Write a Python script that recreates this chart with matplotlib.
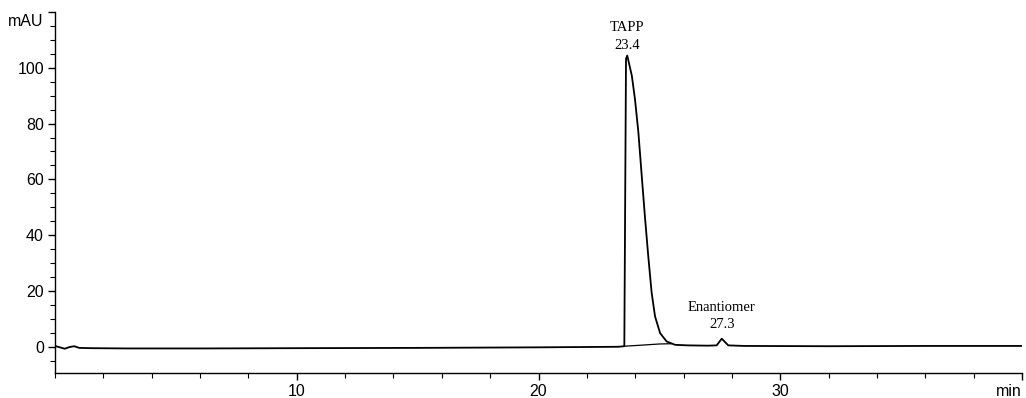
import matplotlib
matplotlib.use("Agg")
import matplotlib.pyplot as plt
from matplotlib.ticker import MultipleLocator
from matplotlib.transforms import blended_transform_factory

# Chromatogram trace (time in min, signal in mAU)
time_min = [0.0, 0.2, 0.4, 0.6, 0.8, 1.0, 1.5, 3.0, 6.0, 10.0, 15.0, 20.0, 23.3, 23.55,
            23.62, 23.67, 23.86, 23.99, 24.13, 24.27, 24.40, 24.54, 24.68, 24.82, 25.03,
            25.30, 25.65, 26.19, 27.0, 27.37, 27.58, 27.85, 28.5, 32.0, 36.0, 40.0]
signal_mau = [0.3, -0.2, -0.7, -0.1, 0.2, -0.4, -0.5, -0.6, -0.6, -0.5, -0.4, -0.2, 0.0, 0.2,
              103.2, 104.4, 97.2, 88.8, 77.0, 61.3, 46.9, 32.5, 19.4, 10.9, 4.9,
              1.9, 0.7, 0.5, 0.4, 0.5, 2.9, 0.5, 0.3, 0.2, 0.3, 0.3]

# Integration baseline under the main peak
base_time = [23.55, 24.3, 25.0, 25.5]
base_mau = [0.2, 0.6, 1.0, 1.1]

# Peak annotations
peak_names = ["TAPP", "Enantiomer"]
peak_times = ["23.4", "27.3"]
label_x = [23.68, 27.58]
name_y = [114.3, 14.0]
time_y = [107.9, 7.9]

x_ticks = [10, 20, 30, 40]
x_tick_labels = ["10", "20", "30", "min"]
y_ticks = [0, 20, 40, 60, 80, 100]

fig = plt.figure(figsize=(10.26, 3.98), dpi=100)
ax = fig.add_axes([55 / 1026, 1 - 373 / 398, 967 / 1026, 361 / 398])

ax.plot(time_min, signal_mau, color="black", lw=1.3)
ax.plot(base_time, base_mau, color="black", lw=0.9)

ax.set_xlim(0, 40)
ax.set_ylim(-9.4, 120)

for s in ["top", "right"]:
    ax.spines[s].set_visible(False)
ax.spines["left"].set_linewidth(1.0)
ax.spines["bottom"].set_linewidth(1.0)

ax.set_xticks(x_ticks)
ax.set_xticklabels(x_tick_labels, family="Liberation Sans", fontsize=11.5)
ax.get_xticklabels()[-1].set_horizontalalignment("right")
ax.xaxis.set_minor_locator(MultipleLocator(2))
ax.set_yticks(y_ticks + [120])
ax.set_yticklabels([str(v) for v in y_ticks] + [""], family="Liberation Sans", fontsize=11.5)
ax.yaxis.set_minor_locator(MultipleLocator(5))
ax.tick_params(axis="both", which="major", length=5, width=1.0, direction="out", pad=3)
ax.tick_params(axis="both", which="minor", length=3.5, width=0.8, direction="out")

tr = blended_transform_factory(ax.transAxes, ax.transData)
ax.text(-0.012, 116.5, "mAU", transform=tr, ha="right", va="center",
        family="Liberation Sans", fontsize=11.5)

for name, rt, px, ny, ty in zip(peak_names, peak_times, label_x, name_y, time_y):
    ax.text(px, ny, name, ha="center", va="center", family="Liberation Serif", fontsize=10.5)
    ax.text(px, ty, rt, ha="center", va="center", family="Liberation Serif", fontsize=10.5)

fig.savefig("out.png", dpi=100)
